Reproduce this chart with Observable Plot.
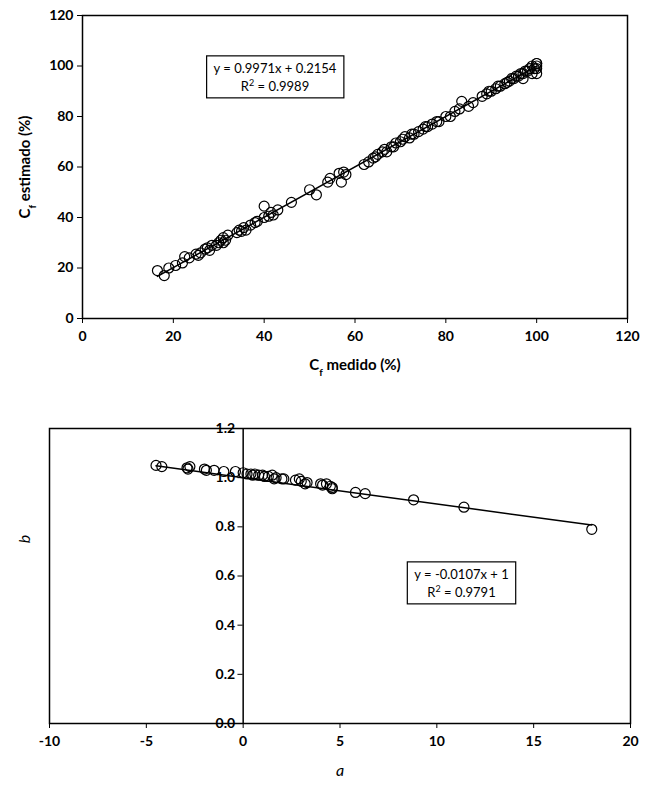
<!DOCTYPE html>
<html><head><meta charset="utf-8">
<script src="https://cdn.jsdelivr.net/npm/d3@7"></script>
<script src="https://cdn.jsdelivr.net/npm/@observablehq/plot@0.6"></script>
<style>
body{margin:0;background:#fff;font-family:Lato,"Open Sans",sans-serif}
#vis svg{display:block}
</style></head><body><div id="vis"></div>
<script>
// Cf medido vs Cf estimado
const cfMedido = [16.5,18,19,20.5,22,22.5,23.5,25,25.5,26,27,27.5,28,28.5,29.5,30,30.5,31,31,31.5,32,34,34.5,35,35.5,36,37,38,38.5,40,40,41,41.5,42,43,46,50,51.5,54,54.5,56.5,57,57.5,58,62,63,64,64.5,65,66,66.5,67,68,68.5,69,70,70.5,71,72,72.5,73,74,75,75.5,76,77,78,78.5,80,81,82,83,83.5,85,86,88,89,89.5,90,91,91.5,92,93,93.5,94,94.5,95,95.5,96,96.5,97,97,97.5,98,98.5,99,99,99.5,100,100,100,100,100];
const cfEstimado = [19,17,20,21,22,24.5,24,25.5,25,26,27.5,28,27,29,29,30,31,30,32,31,33,34,35,34.5,36,35,37,38,38.5,44.5,40,40.5,42,41,43,46,51,49,54,55.5,57.5,54,58,57,61,62,63.5,64,65,66,67,66,68,68,69.5,70,71,72,71.5,73,73,74,75,76,76,77,78,78,80,80,82,83,86,84,85.5,88,89,90,90,91,92,92,93,93.5,94,95,95,96,96,97,97,95,98,98,99,97,100,99,101,97,99,100,101];
const fitTop = {a: 0.9971, b: 0.2154, x0: 16.5, x1: 100};
// a vs b
const aVals = [-4.5,-4.2,-2.9,-2.85,-2.75,-2,-1.9,-1.5,-1,-0.4,0,0.2,0.4,0.5,0.6,0.8,1,1.1,1.3,1.5,1.6,1.7,2,2.1,2.7,2.9,3,3.2,3.3,4,4.1,4.3,4.5,4.6,4.6,5.8,6.3,8.8,11.4,18];
const bVals = [1.05,1.045,1.04,1.035,1.045,1.035,1.03,1.03,1.025,1.025,1.02,1.015,1.015,1.01,1.015,1.01,1.01,1.005,1.005,1.01,0.995,1.0,0.995,0.995,0.99,0.995,0.985,0.975,0.98,0.975,0.97,0.975,0.965,0.96,0.955,0.94,0.935,0.91,0.88,0.79];
const fitBot = {a: -0.0107, b: 1, x0: -4.5, x1: 18};
const topXTicks = [0,20,40,60,80,100,120];
const topYTicks = [0,20,40,60,80,100,120];
const botXTicks = [-10,-5,0,5,10,15,20];
const botYTicks = [0,0.2,0.4,0.6,0.8,1.0,1.2];

const font = {fontSize: "14px", fontWeight: "bold", fontFamily: "Lato, 'Open Sans', sans-serif", color: "#000", background: "#fff"};
const topData = cfMedido.map((x, i) => ({x, y: cfEstimado[i]}));
const botData = aVals.map((x, i) => ({x, y: bVals[i]}));
const line = f => [f.x0, f.x1].map(x => ({x, y: f.a * x + f.b}));

const chartTop = Plot.plot({
  width: 654, height: 390,
  marginLeft: 82, marginRight: 27, marginTop: 15, marginBottom: 72,
  style: font,
  x: {domain: [0, 120], ticks: topXTicks, label: null, tickSize: 5, tickPadding: 8},
  y: {domain: [0, 120], ticks: topYTicks, label: null, tickSize: 5, tickPadding: 4},
  marks: [
    Plot.frame({stroke: "#000", strokeWidth: 1.5}),
    Plot.dot(topData, {x: "x", y: "y", r: 5, stroke: "#000", strokeWidth: 1.2}),
    Plot.line(line(fitTop), {x: "x", y: "y", stroke: "#000", strokeWidth: 1.5})
  ]
});

const chartBot = Plot.plot({
  width: 654, height: 397,
  marginLeft: 49, marginRight: 24, marginTop: 38, marginBottom: 64,
  style: font,
  x: {domain: [-10, 20], ticks: botXTicks, tickFormat: d => String(d), label: null, tickSize: 5, tickPadding: 8},
  y: {domain: [0, 1.2], axis: null},
  marks: [
    Plot.frame({stroke: "#000", strokeWidth: 1.5}),
    Plot.ruleX([0], {stroke: "#000", strokeWidth: 1.5}),
    Plot.ruleY(botYTicks, {y: d => d, x1: -0.27, x2: 0, stroke: "#000"}),
    Plot.text(botYTicks, {y: d => d, x: 0, dx: -8, text: d => d.toFixed(1), textAnchor: "end", fontSize: 14, fontWeight: "bold"}),
    Plot.dot(botData, {x: "x", y: "y", r: 5, stroke: "#000", strokeWidth: 1.2}),
    Plot.line(line(fitBot), {x: "x", y: "y", stroke: "#000", strokeWidth: 1.5})
  ]
});

const vis = d3.select("#vis");
vis.append(() => chartTop);
vis.append(() => chartBot);

function eqBox(svg, cx, cy, lines) {
  const px = svg.scale("x").apply(cx), py = svg.scale("y").apply(cy);
  const g = d3.select(svg).append("g").attr("font-size", 13).attr("font-weight", "normal")
    .attr("font-family", "Lato, 'Open Sans', sans-serif");
  const rect = g.append("rect").attr("fill", "#fff").attr("stroke", "#000").attr("stroke-width", 1.2);
  const t = g.append("text").attr("text-anchor", "middle").attr("x", px);
  lines.forEach((l, i) => {
    const ts = t.append("tspan").attr("x", px).attr("y", py - 4 + i * 18);
    l.forEach(([s, sup]) => {
      const sp = ts.append("tspan").text(s);
      if (sup) sp.attr("baseline-shift", "super").attr("font-size", 9);
    });
  });
  const bb = t.node().getBBox();
  rect.attr("x", bb.x - 7).attr("y", bb.y - 4).attr("width", bb.width + 14).attr("height", bb.height + 8);
}
eqBox(chartTop, 42.5, 95.5, [[["y = 0.9971x + 0.2154"]], [["R"], ["2", true], [" = 0.9989"]]]);
eqBox(chartBot, 11.3, 0.57, [[["y = -0.0107x + 1"]], [["R"], ["2", true], [" = 0.9791"]]]);

// axis labels with subscripts
function label(svg, x, y, parts, rotate, italic) {
  const t = d3.select(svg).append("text").attr("text-anchor", "middle").attr("font-size", italic ? 16 : 15)
    .attr("font-weight", italic ? "normal" : "bold").attr("font-style", italic ? "italic" : "normal")
    .attr("transform", `translate(${x},${y})` + (rotate ? " rotate(-90)" : ""));
  parts.forEach(([s, sub]) => {
    const sp = t.append("tspan").text(s);
    if (sub) sp.attr("baseline-shift", "sub").attr("font-size", 10);
  });
}
label(chartTop, 355, 370, [["C"], ["f", true], [" medido (%)"]]);
label(chartTop, 30, 167, [["C"], ["f", true], [" estimado (%)"]], true);
label(chartBot, 340, 386, [["a"]], false, true);
label(chartBot, 30, 149, [["b"]], true, true);
</script></body></html>
